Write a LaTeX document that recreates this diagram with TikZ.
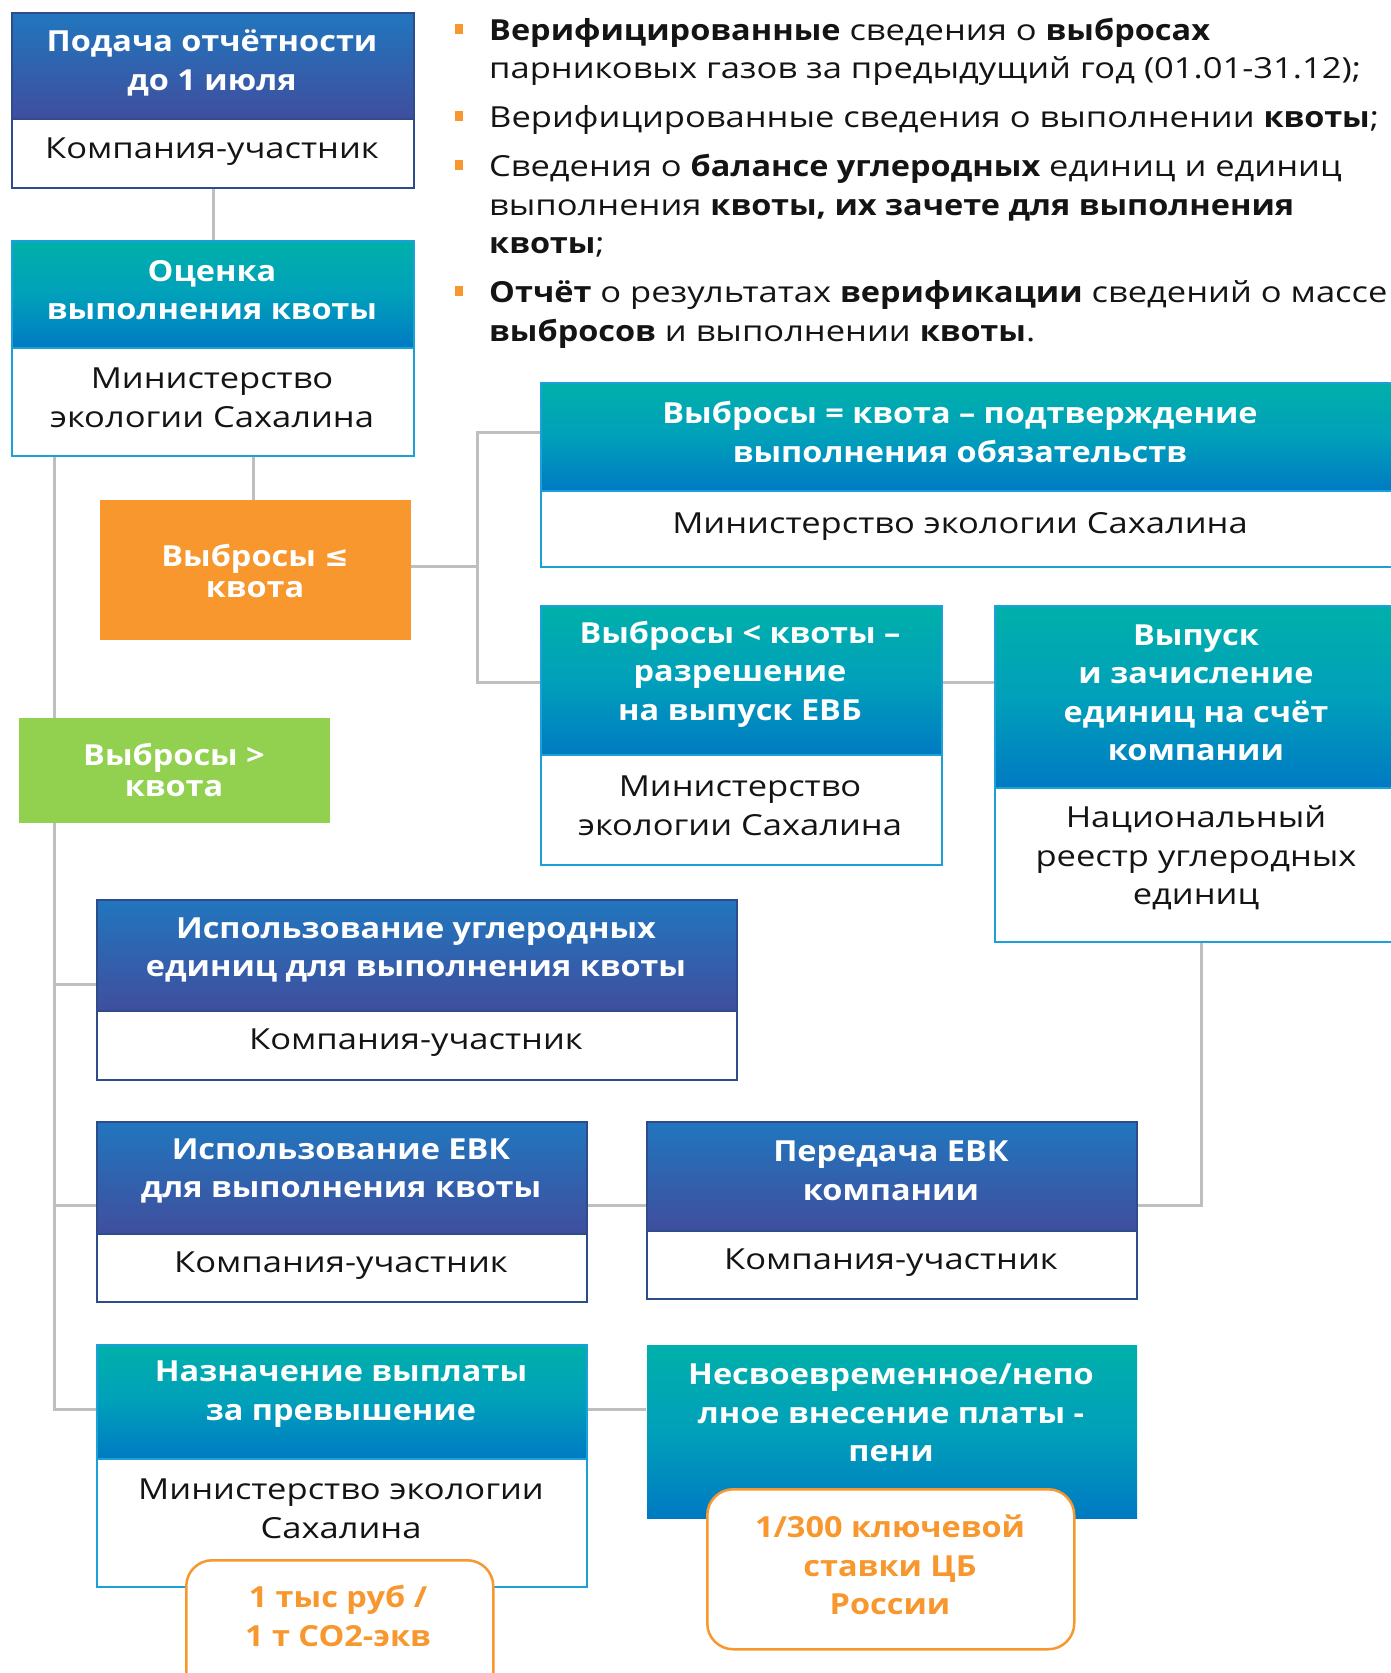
\documentclass[tikz,border=0pt]{standalone}
\usepackage{fontspec}
\setmainfont{Open Sans}[UprightFeatures={FakeStretch=1.19}, BoldFeatures={FakeStretch=1.12}]
\newfontfamily\symf{DejaVu Sans}
\usetikzlibrary{calc,backgrounds}
\definecolor{bTop}{RGB}{33,118,190}
\definecolor{bBot}{RGB}{64,78,158}
\definecolor{bBord}{RGB}{46,76,140}
\definecolor{tTop}{RGB}{0,176,170}
\definecolor{tMid}{RGB}{0,160,186}
\definecolor{tBot}{RGB}{0,122,195}
\definecolor{tBord}{RGB}{27,160,216}
\definecolor{orng}{RGB}{247,151,46}
\definecolor{grn}{RGB}{146,208,80}
\definecolor{connc}{RGB}{191,191,191}
\definecolor{txtc}{RGB}{20,20,20}
\newcommand\hdfont{\bfseries\fontsize{29}{38.5}\selectfont}
\newcommand\bdfont{\fontsize{29}{38.5}\selectfont}
\newcommand\smfont{\bfseries\fontsize{29}{31}\selectfont}
\tikzset{
  hb/.style={draw=bBord, line width=2.2pt, top color=bTop, bottom color=bBot, inner sep=0pt, anchor=north west},
  ht/.style={draw=tBord, line width=2.2pt, top color=tTop, bottom color=tBot, middle color=tMid, inner sep=0pt, anchor=north west},
  bodyb/.style={draw=bBord, line width=2.2pt, fill=white, inner sep=0pt, anchor=north west},
  bodyt/.style={draw=tBord, line width=2.2pt, fill=white, inner sep=0pt, anchor=north west},
  htxt/.style={text=white, font=\hdfont, align=center, inner sep=0pt},
  btxt/.style={text=txtc, font=\bdfont, align=center, inner sep=0pt},
  flat/.style={inner sep=0pt, anchor=north west},
  ftxt/.style={text=white, font=\smfont, align=center, inner sep=0pt},
  rbox/.style={draw=orng, line width=2.5pt, fill=white, rounded corners=26pt, inner sep=0pt, anchor=north west},
  rtxt/.style={text=orng, font=\hdfont, align=center, inner sep=0pt},
  conn/.style={draw=connc, line width=3pt},
  blt/.style={fill=orng, minimum width=8pt, minimum height=10pt, inner sep=0pt},
  ltx/.style={text=txtc, font=\bdfont, anchor=base west, inner sep=0pt}
}
\begin{document}
\begin{tikzpicture}[x=1pt,y=-1pt]
\useasboundingbox (0,0) rectangle (1390,1673);
% bullets
\node[blt] (q1) at (459,29) {};
\node[blt] (q2) at (459,116) {};
\node[blt] (q3) at (459,165) {};
\node[blt] (q4) at (459,291) {};
\node[ltx] (l1) at (489,40) {\textbf{Верифицированные} сведения о \textbf{выбросах}};
\node[ltx] (l2) at (489,78) {парниковых газов за предыдущий год (01.01-31.12);};
\node[ltx] (l3) at (489,127) {Верифицированные сведения о выполнении \textbf{квоты};};
\node[ltx] (l4) at (489,176) {Сведения о \textbf{балансе углеродных} единиц и единиц};
\node[ltx] (l5) at (489,215) {выполнения \textbf{квоты, их зачете для выполнения}};
\node[ltx] (l6) at (489,253) {\textbf{квоты};};
\node[ltx] (l7) at (489,302) {\textbf{Отчёт} о результатах \textbf{верификации} сведений о массе};
\node[ltx] (l8) at (489,341) {\textbf{выбросов} и выполнении \textbf{квоты}.};
% B1
\node[hb, minimum width=402pt, minimum height=106pt] (b1h) at (11,12) {};
\node[bodyb, minimum width=402pt, minimum height=69pt] (b1b) at (11,118) {};
\node[htxt] (b1ht) at (212,63) {Подача отчётности\\до 1 июля};
\node[btxt] (b1bt) at (212,152) {Компания-участник};
% B2
\node[ht, minimum width=402pt, minimum height=107pt] (b2h) at (11,240) {};
\node[bodyt, minimum width=402pt, minimum height=108pt] (b2b) at (11,347) {};
\node[htxt] (b2ht) at (212,290) {Оценка\\выполнения квоты};
\node[btxt] (b2bt) at (212,398) {Министерство\\экологии Сахалина};
% orange
\node[flat, fill=orng, minimum width=311pt, minimum height=140pt] (o1) at (100,500) {};
\node[ftxt] (o1t) at (255,571) {Выбросы {\symf ≤}\\квота};
% B3
\node[ht, minimum width=860pt, minimum height=108pt] (b3h) at (540,382) {};
\node[bodyt, minimum width=860pt, minimum height=76pt] (b3b) at (540,490) {};
\node[htxt] (b3ht) at (960,432) {Выбросы = квота – подтверждение\\выполнения обязательств};
\node[btxt] (b3bt) at (960,526) {Министерство экологии Сахалина};
% B4
\node[ht, minimum width=401pt, minimum height=149pt] (b4h) at (540,605) {};
\node[bodyt, minimum width=401pt, minimum height=110pt] (b4b) at (540,754) {};
\node[htxt] (b4ht) at (740,674) {Выбросы < квоты –\\разрешение\\на выпуск ЕВБ};
\node[btxt] (b4bt) at (740,806) {Министерство\\экологии Сахалина};
% B5
\node[ht, minimum width=404pt, minimum height=182pt] (b5h) at (994,605) {};
\node[bodyt, minimum width=404pt, minimum height=154pt] (b5b) at (994,787) {};
\node[htxt] (b5ht) at (1196,693) {Выпуск\\и зачисление\\единиц на счёт\\компании};
\node[btxt] (b5bt) at (1196,858) {Национальный\\реестр углеродных\\единиц};
% green
\node[flat, fill=grn, minimum width=311pt, minimum height=105pt] (g1) at (19,718) {};
\node[ftxt] (g1t) at (174,770) {Выбросы >\\квота};
% B6
\node[hb, minimum width=640pt, minimum height=111pt] (b6h) at (96,899) {};
\node[bodyb, minimum width=640pt, minimum height=69pt] (b6b) at (96,1010) {};
\node[htxt] (b6ht) at (416,950) {Использование углеродных\\единиц для выполнения квоты};
\node[btxt] (b6bt) at (416,1043) {Компания-участник};
% B7
\node[hb, minimum width=490pt, minimum height=112pt] (b7h) at (96,1121) {};
\node[bodyb, minimum width=490pt, minimum height=68pt] (b7b) at (96,1233) {};
\node[htxt] (b7ht) at (341,1171) {Использование ЕВК\\для выполнения квоты};
\node[btxt] (b7bt) at (341,1266) {Компания-участник};
% B8
\node[hb, minimum width=490pt, minimum height=109pt] (b8h) at (646,1121) {};
\node[bodyb, minimum width=490pt, minimum height=68pt] (b8b) at (646,1230) {};
\node[htxt] (b8ht) at (891,1171) {Передача ЕВК\\компании};
\node[btxt] (b8bt) at (891,1263) {Компания-участник};
% B9
\node[ht, minimum width=490pt, minimum height=114pt] (b9h) at (96,1344) {};
\node[bodyt, minimum width=490pt, minimum height=128pt] (b9b) at (96,1458) {};
\node[htxt] (b9ht) at (341,1394) {Назначение выплаты\\за превышение};
\node[btxt] (b9bt) at (341,1509) {Министерство экологии\\Сахалина};
% B10
\node[ht, draw=none, minimum width=490pt, minimum height=173pt] (b10h) at (646,1344) {};
\node[htxt] (b10ht) at (891,1413) {Несвоевременное/непо\\лное внесение платы -\\пени};
% rounded
\node[rbox, minimum width=307pt, minimum height=140pt] (r1) at (185,1559) {};
\node[rtxt] (r1t) at (338,1616) {1 тыс руб /\\1 т CO2-экв};
\node[rbox, minimum width=367pt, minimum height=160pt] (r2) at (706,1488) {};
\node[rtxt] (r2t) at (890,1565) {1/300 ключевой\\ставки ЦБ\\России};
% connectors
\coordinate (spT) at (54,455);
\coordinate (spB) at (54,1409);
\coordinate (s1) at (54,984);
\coordinate (s2) at (54,1205);
\coordinate (c2) at (253,455);
\coordinate (fkT) at (477,432);
\coordinate (fkB) at (477,682);
\coordinate (fkM) at (477,566);
\coordinate (c5) at (1201,1205);
\begin{pgfonlayer}{background}
\draw[conn] (b1b.south) -- (b2h.north);
\draw[conn] (spT) -- (spB) -- (spB -| b9h.west);
\draw[conn] (s1) -- (s1 -| b6h.west);
\draw[conn] (s2) -- (s2 -| b7h.west);
\draw[conn] (c2) -- (c2 |- o1.north);
\draw[conn] (fkM -| o1.east) -- (fkM);
\draw[conn] (fkT -| b3h.west) -- (fkT) -- (fkB) -- (fkB -| b4h.west);
\draw[conn] (fkB -| b4h.east) -- (fkB -| b5h.west);
\draw[conn] (c5 |- b5b.south) -- (c5) -- (c5 -| b8h.east);
\draw[conn] (b7h.east |- c5) -- (b8h.west |- c5);
\draw[conn] (spB -| b9h.east) -- (spB -| b10h.west);
\end{pgfonlayer}
\end{tikzpicture}
\end{document}
